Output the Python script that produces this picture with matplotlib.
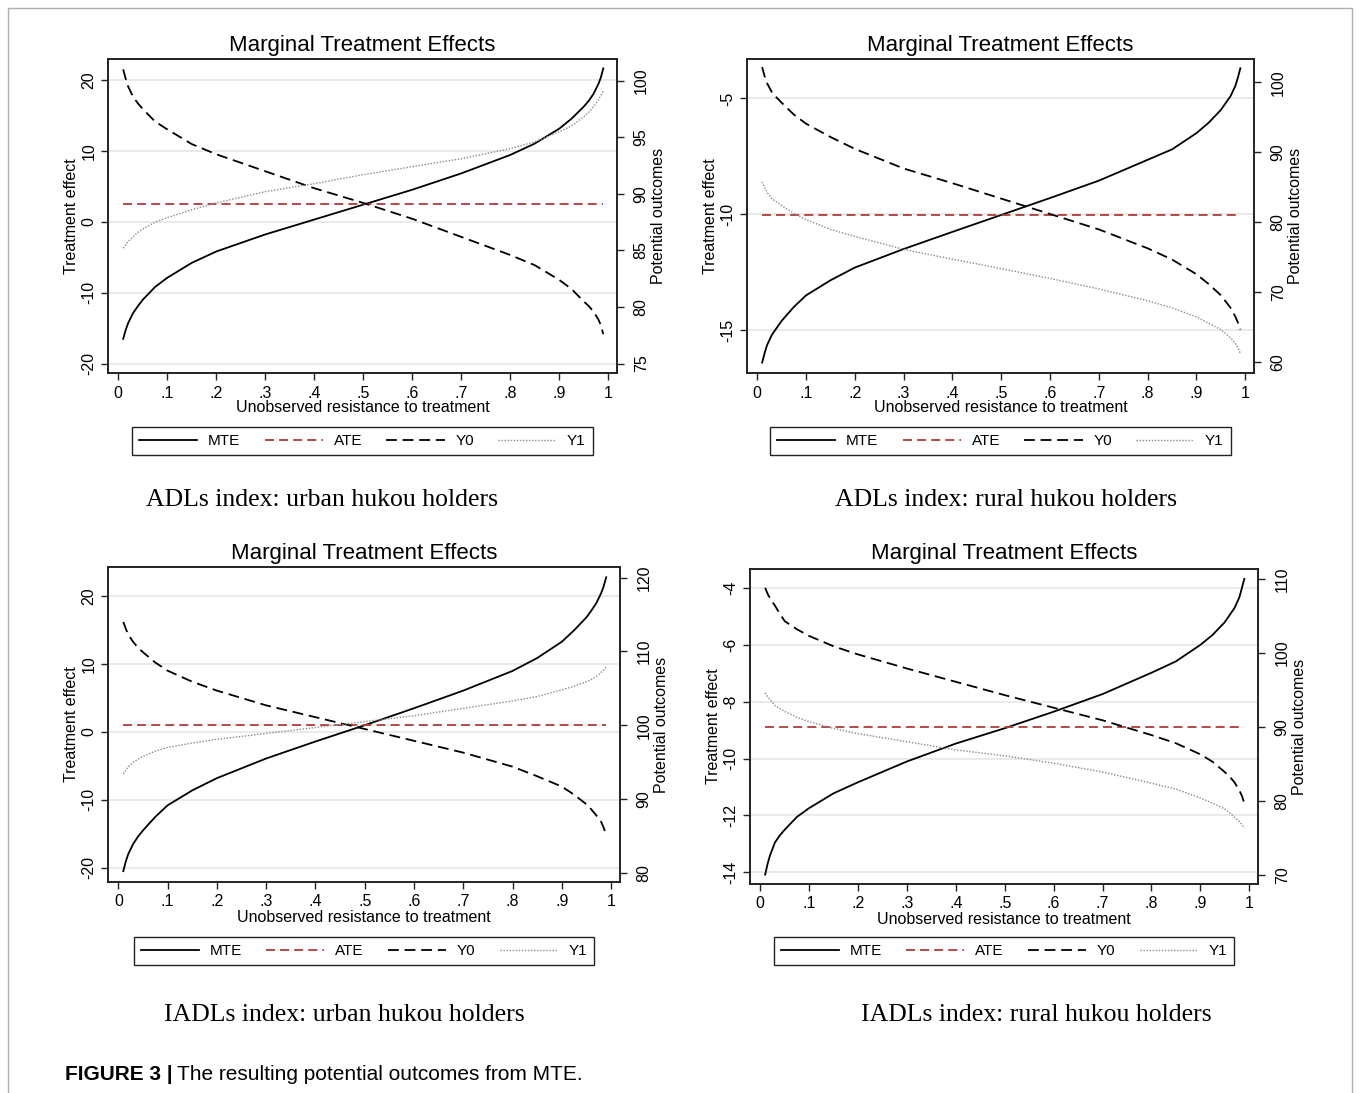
import numpy as np
import matplotlib
matplotlib.use('Agg')
import matplotlib.pyplot as plt
from matplotlib.patches import Rectangle

plt.rcParams['font.family'] = ['Liberation Sans', 'DejaVu Sans']

W, H = 1360, 1093

# unobserved resistance grid (x values)
u = [0.01, 0.015, 0.02, 0.03, 0.04, 0.05, 0.075, 0.1, 0.15, 0.2, 0.3, 0.4, 0.5,
     0.6, 0.7, 0.8, 0.85, 0.9, 0.925, 0.95, 0.96, 0.97, 0.98, 0.985, 0.99]
xticks = [0, .1, .2, .3, .4, .5, .6, .7, .8, .9, 1]
xtick_labels = ['0', '.1', '.2', '.3', '.4', '.5', '.6', '.7', '.8', '.9', '1']

# ADLs index, urban hukou
mte_adl_urban = [-16.5, -15.3, -14.3, -12.9, -11.9, -11.0, -9.2, -7.9, -5.8, -4.2, -1.8, 0.3, 2.4,
                 4.5, 6.8, 9.4, 11.0, 13.1, 14.5, 16.2, 17.0, 18.0, 19.4, 20.3, 21.6]
ate_adl_urban = 2.5
y0_adl_urban = [101.0, 100.2, 99.5, 98.6, 98.0, 97.5, 96.4, 95.7, 94.4, 93.5, 92.0, 90.5, 89.2,
                87.8, 86.2, 84.6, 83.7, 82.4, 81.6, 80.5, 80.1, 79.6, 78.9, 78.4, 77.6]
y1_adl_urban = [85.2, 85.5, 85.8, 86.2, 86.6, 86.9, 87.5, 87.9, 88.6, 89.2, 90.2, 90.9, 91.7,
                92.4, 93.1, 94.0, 94.6, 95.5, 96.0, 96.8, 97.2, 97.7, 98.3, 98.7, 99.1]

# ADLs index, rural hukou
mte_adl_rural = [-16.4, -16.0, -15.65, -15.2, -14.9, -14.6, -14.0, -13.5, -12.85, -12.3, -11.5, -10.76, -10.03,
                 -9.3, -8.55, -7.65, -7.2, -6.5, -6.05, -5.5, -5.2, -4.9, -4.45, -4.1, -3.7]
ate_adl_rural = -10.05
y0_adl_rural = [102.2, 100.9, 99.9, 98.6, 97.8, 97.1, 95.4, 94.1, 92.2, 90.5, 87.7, 85.6, 83.4,
                81.2, 79.0, 76.3, 74.7, 72.6, 71.2, 69.6, 68.7, 67.8, 66.5, 65.7, 64.7]
y1_adl_rural = [85.8, 85.0, 84.3, 83.4, 82.9, 82.4, 81.3, 80.4, 79.0, 78.0, 76.15, 74.75, 73.4,
                72.0, 70.5, 68.8, 67.8, 66.5, 65.6, 64.7, 64.1, 63.5, 62.7, 62.1, 61.3]

# IADLs index, urban hukou
mte_iadl_urban = [-20.5, -19.1, -18.0, -16.5, -15.4, -14.5, -12.5, -10.8, -8.6, -6.8, -3.9, -1.4, 1.0,
                  3.5, 6.1, 9.0, 10.9, 13.3, 15.0, 16.9, 17.9, 19.0, 20.5, 21.5, 22.8]
ate_iadl_urban = 1.1
y0_iadl_urban = [114.0, 113.1, 112.3, 111.3, 110.5, 109.9, 108.5, 107.4, 105.9, 104.7, 102.7, 101.1, 99.5,
                 97.9, 96.3, 94.4, 93.1, 91.7, 90.6, 89.3, 88.6, 87.8, 86.9, 86.1, 85.2]
y1_iadl_urban = [93.4, 93.9, 94.4, 95.0, 95.4, 95.8, 96.5, 97.0, 97.6, 98.1, 98.9, 99.7, 100.5,
                 101.3, 102.3, 103.3, 103.9, 104.8, 105.3, 105.9, 106.2, 106.6, 107.2, 107.5, 107.9]

# IADLs index, rural hukou
mte_iadl_rural = [-14.08, -13.7, -13.4, -12.95, -12.7, -12.5, -12.05, -11.74, -11.22, -10.83, -10.1, -9.47, -8.93,
                  -8.35, -7.73, -6.98, -6.58, -6.0, -5.65, -5.2, -4.95, -4.7, -4.32, -4.0, -3.68]
ate_iadl_rural = -8.89
y0_iadl_rural = [108.8, 108.0, 107.4, 106.4, 105.3, 104.3, 103.2, 102.3, 100.9, 99.8, 97.9, 96.1, 94.3,
                 92.6, 90.9, 88.9, 87.8, 86.3, 85.3, 83.9, 83.3, 82.5, 81.4, 80.7, 79.7]
y1_iadl_rural = [94.6, 94.1, 93.7, 92.9, 92.5, 92.1, 91.3, 90.7, 89.8, 89.1, 88.0, 86.9, 86.1,
                 85.1, 83.9, 82.4, 81.6, 80.4, 79.7, 78.9, 78.4, 77.8, 77.2, 76.8, 76.3]

RED = '#b03c3c'
GRID = '#e6e6e6'

fig = plt.figure(figsize=(W / 100, H / 100), dpi=100)


def draw_panel(box, mte, ate, y0, y1, ylim_l, ylim_r, ticks_l, ticks_r,
               title_y, legend_y, caption, caption_x, caption_y):
    l, t, r, b = box
    ax = fig.add_axes([l / W, 1 - b / H, (r - l) / W, (b - t) / H])
    ax2 = ax.twinx()
    for yt in ticks_l:
        ax.axhline(yt, color=GRID, lw=1.2, zorder=0)
    h1, = ax.plot(u, mte, color='black', lw=1.3, label='MTE')
    h2, = ax.plot([u[0], u[-1]], [ate, ate], color=RED, lw=1.3, dashes=(5, 2.8), label='ATE')
    h3, = ax2.plot(u, y0, color='black', lw=1.3, dashes=(6, 3.2), label='Y0')
    h4, = ax2.plot(u, y1, color='#8a8a8a', lw=1.0, dashes=(1, 1.2), label='Y1')
    ax.set_xlim(-0.021, 1.018)
    ax.set_ylim(ylim_l)
    ax2.set_ylim(ylim_r)
    ax.set_xticks(xticks)
    ax.set_xticklabels(xtick_labels)
    ax.set_yticks(ticks_l)
    ax.set_yticklabels([f'{v:g}' for v in ticks_l], rotation=90, va='center')
    ax2.set_yticks(ticks_r)
    ax2.set_yticklabels([f'{v:g}' for v in ticks_r], rotation=90, va='center')
    for a in (ax, ax2):
        a.tick_params(direction='out', length=5, width=1, labelsize=11.5, color='#222222')
        for s in a.spines.values():
            s.set_linewidth(1.2)
            s.set_color('#222222')
    ax.tick_params(axis='x', pad=4)
    ax.tick_params(axis='y', pad=3.3)
    ax2.tick_params(axis='y', pad=7)
    ax.set_xlabel('Unobserved resistance to treatment', fontsize=11.5, labelpad=0)
    ax.set_ylabel('Treatment effect', fontsize=11.5, labelpad=1.5)
    ax2.set_ylabel('Potential outcomes', fontsize=11.5, labelpad=2)
    fig.text((l + r) / 2 / W, 1 - title_y / H, 'Marginal Treatment Effects',
             ha='center', va='center', fontsize=16)
    leg = ax.legend([h1, h2, h3, h4], ['MTE', 'ATE', 'Y0', 'Y1'], loc='center',
                    bbox_to_anchor=((l + r) / 2 / W, 1 - legend_y / H),
                    bbox_transform=fig.transFigure, ncol=4, fontsize=11,
                    frameon=True, fancybox=False, framealpha=1, edgecolor='#222222',
                    handlelength=3.8, handletextpad=0.7, columnspacing=1.6,
                    borderpad=0.45)
    leg.get_frame().set_linewidth(1.0)
    fig.text(caption_x / W, 1 - caption_y / H, caption, ha='center', va='center',
             fontsize=18.5, family='Liberation Serif')


draw_panel((108, 59, 617, 373), mte_adl_urban, ate_adl_urban, y0_adl_urban, y1_adl_urban,
           (-21.32, 22.92), (74.17, 101.92), [-20, -10, 0, 10, 20], [75, 80, 85, 90, 95, 100],
           45, 441, 'ADLs index: urban hukou holders', 322, 500)
draw_panel((747, 59, 1254, 373), mte_adl_rural, ate_adl_rural, y0_adl_rural, y1_adl_rural,
           (-16.85, -3.30), (58.49, 103.34), [-15, -10, -5], [60, 70, 80, 90, 100],
           45, 441, 'ADLs index: rural hukou holders', 1006, 500)
draw_panel((108, 567, 620, 882), mte_iadl_urban, ate_iadl_urban, y0_iadl_urban, y1_iadl_urban,
           (-22.1, 24.31), (78.78, 121.44), [-20, -10, 0, 10, 20], [80, 90, 100, 110, 120],
           553, 951, 'IADLs index: urban hukou holders', 344, 1015)
draw_panel((750, 569, 1258, 884), mte_iadl_rural, ate_iadl_rural, y0_iadl_rural, y1_iadl_rural,
           (-14.41, -3.33), (68.77, 111.35), [-14, -12, -10, -8, -6, -4], [70, 80, 90, 100, 110],
           554, 951, 'IADLs index: rural hukou holders', 1036, 1015)

# outer border of the figure
fig.patches.append(Rectangle((8 / W, -0.02), (1352 - 8) / W, 1.02 - 8 / H,
                             transform=fig.transFigure, fill=False,
                             edgecolor='#b0b0b0', lw=1.0))

t1 = fig.text(65 / W, 1 - 1075 / H, 'FIGURE 3 |', fontsize=15, weight='bold', va='center')
fig.canvas.draw()
bb = t1.get_window_extent()
fig.text((bb.x1 + 4) / W, 1 - 1075 / H, 'The resulting potential outcomes from MTE.',
         fontsize=15, va='center')

fig.savefig('out.png', dpi=100)
